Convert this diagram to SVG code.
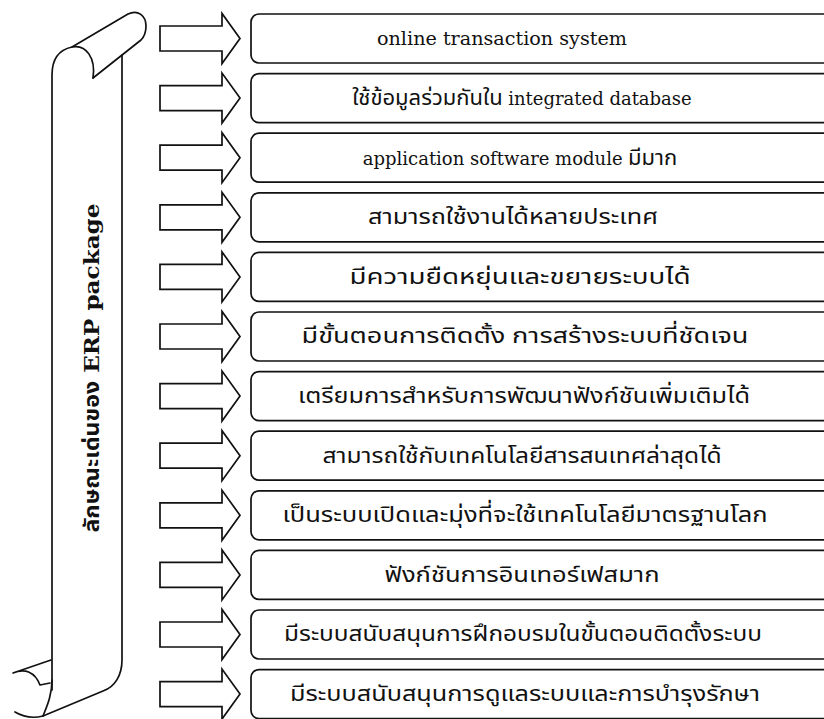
<svg xmlns="http://www.w3.org/2000/svg" width="824" height="719" viewBox="0 0 824 719">
<defs>
<style>
.ln{fill:none;stroke:#111;stroke-width:1.7;stroke-linejoin:round;stroke-linecap:round}
.bx{fill:#fff;stroke:#111;stroke-width:1.7}
.ar{fill:#fff;stroke:#111;stroke-width:1.7;stroke-linejoin:miter}
.t{font-family:"Liberation Serif","Noto Sans Thai","Noto Serif Thai","Tlwg Typo","Loma",serif;font-size:22px;fill:#111;text-anchor:middle}
.e{font-family:"DejaVu Serif","Liberation Serif",serif;font-size:18px}
.v{font-family:"DejaVu Serif","Noto Sans Thai","Noto Serif Thai","Loma",serif;font-size:21px;font-weight:bold;fill:#111;text-anchor:middle}
</style>
<path id="arrow" d="M0,-12.5 H62 V-25 L80,0 L62,25 V12.5 H0 Z"/>
</defs>
<rect width="824" height="719" fill="#fff"/>
<g id="scroll">
<path class="ln" d="M52,690 V75 C52,60 58,50 72,47 L128,14 C138,9 146,16 146,26 C146,33 144,37 141,40 L93,78"/>
<path class="ln" d="M72,47 C86,44 96,58 93,78"/>
<path class="ln" d="M122,55 V660 C122,675 115,687 103,691 L43,716"/>
<path class="ln" d="M52,680 C52,695 47,706 43,716"/>
<path class="ln" d="M51,660 L13,673 C25,668 35,672 40,685 L50,683"/>
<path class="ln" d="M15,712 C25,718 35,718 43,716"/>
<text class="v" transform="translate(99,368) rotate(-90)" textLength="329" lengthAdjust="spacingAndGlyphs">ลักษณะเด่นของ ERP package</text>
</g>
<g id="connectors">
<use href="#arrow" class="ar" x="160" y="38.5"/>
<use href="#arrow" class="ar" x="160" y="98.1"/>
<use href="#arrow" class="ar" x="160" y="157.7"/>
<use href="#arrow" class="ar" x="160" y="217.3"/>
<use href="#arrow" class="ar" x="160" y="276.9"/>
<use href="#arrow" class="ar" x="160" y="336.5"/>
<use href="#arrow" class="ar" x="160" y="396.1"/>
<use href="#arrow" class="ar" x="160" y="455.7"/>
<use href="#arrow" class="ar" x="160" y="515.3"/>
<use href="#arrow" class="ar" x="160" y="574.9"/>
<use href="#arrow" class="ar" x="160" y="634.5"/>
<use href="#arrow" class="ar" x="160" y="694.1"/>
</g>
<g id="n1"><rect class="bx" x="251" y="14" width="600" height="49" rx="8"/><text class="t e" x="502" y="45" textLength="250" lengthAdjust="spacingAndGlyphs">online transaction system</text></g>
<g id="n2"><rect class="bx" x="251" y="73.6" width="600" height="49" rx="8"/><text class="t" x="522" y="105">ใช้ข้อมูลร่วมกันใน <tspan class="e">integrated database</tspan></text></g>
<g id="n3"><rect class="bx" x="251" y="133.2" width="600" height="49" rx="8"/><text class="t" x="520" y="164.6"><tspan class="e">application software module</tspan> มีมาก</text></g>
<g id="n4"><rect class="bx" x="251" y="192.8" width="600" height="49" rx="8"/><text class="t" x="513" y="224.2" textLength="290" lengthAdjust="spacingAndGlyphs">สามารถใช้งานได้หลายประเทศ</text></g>
<g id="n5"><rect class="bx" x="251" y="252.4" width="600" height="49" rx="8"/><text class="t" x="520" y="283.8" textLength="341" lengthAdjust="spacingAndGlyphs">มีความยืดหยุ่นและขยายระบบได้</text></g>
<g id="n6"><rect class="bx" x="251" y="312" width="600" height="49" rx="8"/><text class="t" x="525" y="343.4" textLength="447" lengthAdjust="spacingAndGlyphs">มีขั้นตอนการติดตั้ง การสร้างระบบที่ชัดเจน</text></g>
<g id="n7"><rect class="bx" x="251" y="371.6" width="600" height="49" rx="8"/><text class="t" x="524" y="403" textLength="452" lengthAdjust="spacingAndGlyphs">เตรียมการสำหรับการพัฒนาฟังก์ชันเพิ่มเติมได้</text></g>
<g id="n8"><rect class="bx" x="251" y="431.2" width="600" height="49" rx="8"/><text class="t" x="522" y="462.6" textLength="399" lengthAdjust="spacingAndGlyphs">สามารถใช้กับเทคโนโลยีสารสนเทศล่าสุดได้</text></g>
<g id="n9"><rect class="bx" x="251" y="490.8" width="600" height="49" rx="8"/><text class="t" x="525" y="522.2" textLength="485" lengthAdjust="spacingAndGlyphs">เป็นระบบเปิดและมุ่งที่จะใช้เทคโนโลยีมาตรฐานโลก</text></g>
<g id="n10"><rect class="bx" x="251" y="550.4" width="600" height="49" rx="8"/><text class="t" x="522" y="581.8" textLength="275" lengthAdjust="spacingAndGlyphs">ฟังก์ชันการอินเทอร์เฟสมาก</text></g>
<g id="n11"><rect class="bx" x="251" y="610" width="600" height="49" rx="8"/><text class="t" x="523" y="641.4" textLength="478" lengthAdjust="spacingAndGlyphs">มีระบบสนับสนุนการฝึกอบรมในขั้นตอนติดตั้งระบบ</text></g>
<g id="n12"><rect class="bx" x="251" y="669.6" width="600" height="49" rx="8"/><text class="t" x="525" y="701" textLength="470" lengthAdjust="spacingAndGlyphs">มีระบบสนับสนุนการดูแลระบบและการบำรุงรักษา</text></g>
</svg>
